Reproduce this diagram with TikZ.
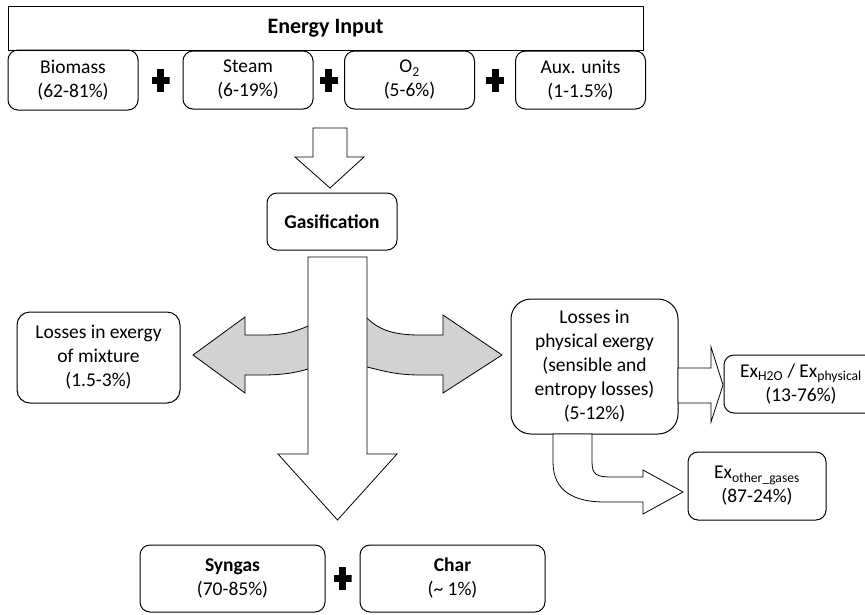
\documentclass[tikz,border=0pt]{standalone}
\usepackage{fontspec}
\setmainfont{Carlito}
\usetikzlibrary{positioning,calc}

\begin{document}
\begin{tikzpicture}[%
    x=1pt, y=-1pt,
    node distance=175pt,
    on grid,
    font=\fontsize{19.5}{24}\selectfont,
    headbox/.style={draw, line width=1pt, minimum width=635pt, minimum height=44pt, inner sep=0pt,
        font=\fontsize{22}{26}\selectfont\bfseries},
    inbox/.style={draw, line width=1pt, rounded corners=10pt, align=center, inner sep=0pt,
        minimum width=130pt, minimum height=58pt},
    lossbox/.style={inbox, rounded corners=16pt},
    plussign/.style={minimum width=18pt, minimum height=23pt, inner sep=0pt, outer sep=0pt,
        path picture={
            \fill ([xshift=-3.5pt]path picture bounding box.south) rectangle ([xshift=3.5pt]path picture bounding box.north);
            \fill ([yshift=-3.5pt]path picture bounding box.west) rectangle ([yshift=3.5pt]path picture bounding box.east);
        }},
    block/.style={draw, line width=0.8pt, line join=miter, fill=white},
    lossblock/.style={block, fill=gray!35}
    ]

    \useasboundingbox (0,0) rectangle (865,614);
    \clip (0,0) rectangle (865,614);

    \node[headbox] (energy) at (325.5,28) {Energy Input};
    \node[inbox, minimum height=60pt] (biomass) at (73,80) {Biomass\\(62-81\%)};
    \node[inbox] (steam) [right=175pt of biomass] {Steam\\(6-19\%)};
    \node[inbox] (o2) [right=161.5pt of steam] {O\textsubscript{2}\\(5-6\%)};
    \node[inbox] (aux) [right=171pt of o2] {Aux. units\\(1-1.5\%)};
    \node[plussign] (p1) at ($(biomass)!0.5!(steam)$) {};
    \node[plussign] (p2) at ($(steam)!0.5!(o2)$) {};
    \node[plussign] (p3) at ($(o2)!0.5!(aux)$) {};

    \draw[block] (313,128) -- (347,128) -- (347,157) -- (364,157) -- (330,188)
        -- (295,157) -- (313,157) -- cycle;

    \node[inbox, minimum height=57pt] (gasif) at (332,221.5) {\textbf{Gasification}};

    \draw[lossblock] (330,326) -- (308,326) .. controls (292,333) and (282,335) .. (262,335)
        -- (245,335) -- (245,317) -- (193,355) -- (245,393) -- (245,375) -- (262,375)
        .. controls (285,375) and (298,372) .. (308,369) -- (330,369) -- cycle;
    \draw[lossblock] (345,318) -- (367,318) .. controls (380,331) and (396,335) .. (420,335)
        -- (443,335) -- (443,315) -- (502,355) -- (443,393) -- (443,375) -- (420,375)
        .. controls (395,375) and (380,370) .. (367,367) -- (345,367) -- cycle;

    \draw[block] (308,257) -- (367,257) -- (367,454) -- (397,454) -- (337.5,520)
        -- (278,454) -- (308,454) -- cycle;

    \node[lossbox, rounded corners=13pt, minimum width=163pt, minimum height=91pt] (lossmix)
        at (98.5,357.5) {Losses in exergy\\of mixture\\(1.5-3\%)};
    \node[lossbox, rounded corners=20pt, minimum width=167pt, minimum height=135pt] (lossphys)
        at (594.5,366.5) {Losses in\\physical exergy\\(sensible and\\entropy losses)\\(5-12\%)};

    \draw[block] (678,368) -- (711,368) -- (711,347) -- (723,385) -- (711,422)
        -- (711,403) -- (678,403) -- cycle;
    \draw[block] (553,434) -- (553,462) .. controls (553,492) and (575,502) .. (605,502)
        -- (643,502) -- (643,514) -- (683,492) -- (643,470) -- (643,477) -- (612,477)
        .. controls (597,477) and (592,475) .. (592,462) -- (592,434) -- cycle;

    \node[inbox, minimum width=154pt] (exh2o) at (801,384)
        {Ex\textsubscript{H2O} / Ex\textsubscript{physical}\\(13-76\%)};
    \node[inbox, minimum width=138pt, minimum height=68pt] (exother) at (757,486)
        {Ex\textsubscript{other\_gases}\\(87-24\%)};

    \node[inbox, minimum width=185pt, minimum height=67pt] (syngas) at (232.5,578.5)
        {\textbf{Syngas}\\(70-85\%)};
    \node[inbox, minimum width=185pt, minimum height=67pt] (char) [right=220pt of syngas]
        {\textbf{Char}\\(\textasciitilde{} 1\%)};
    \node[plussign] (p4) at ($(syngas)!0.5!(char)$) {};

\end{tikzpicture}
\end{document}
